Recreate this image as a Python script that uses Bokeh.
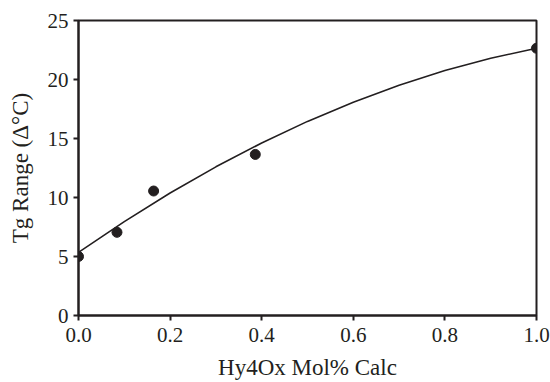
from bokeh.plotting import figure
from bokeh.models import FixedTicker, PrintfTickFormatter, Range1d
from bokeh.embed import file_html
from bokeh.resources import INLINE

# measured data points
mol_frac = [0.0, 0.084, 0.164, 0.386, 1.0]
tg_range = [5.0, 7.05, 10.55, 13.65, 22.65]

# trendline
trend_x = [0.0, 0.1, 0.2, 0.3, 0.4, 0.5, 0.6, 0.7, 0.8, 0.9, 1.0]
trend_y = [5.35, 7.96, 10.38, 12.60, 14.62, 16.45, 18.08, 19.52, 20.76, 21.80, 22.65]

x_ticks = [0.0, 0.2, 0.4, 0.6, 0.8, 1.0]
y_ticks = [0, 5, 10, 15, 20, 25]

FONT = "Liberation Serif"
INK = "#231f20"

p = figure(width=550, height=382, output_backend="svg", toolbar_location=None,
           x_range=Range1d(0, 1), y_range=Range1d(0, 25),
           min_border_left=78, min_border_right=14, min_border_top=20, min_border_bottom=67)
p.frame_width = 458
p.frame_height = 295

p.line(trend_x, trend_y, line_color=INK, line_width=1.6)
p.scatter(mol_frac, tg_range, size=10, fill_color=INK, line_color=INK)

p.xgrid.visible = False
p.ygrid.visible = False
p.outline_line_color = INK
p.outline_line_width = 2
p.outline_line_alpha = 1

p.axis.axis_line_color = INK
p.axis.axis_line_width = 2
p.axis.major_tick_line_color = INK
p.axis.major_tick_line_width = 2
p.axis.major_tick_out = 5
p.axis.major_tick_in = 0
p.axis.minor_tick_line_color = None
p.axis.major_label_text_font = FONT
p.axis.major_label_text_font_size = "21px"
p.axis.major_label_text_font_style = "normal"
p.axis.major_label_text_color = INK
p.axis.axis_label_text_font = FONT
p.axis.axis_label_text_font_size = "23px"
p.axis.axis_label_text_font_style = "normal"
p.axis.axis_label_text_color = INK

p.xaxis.ticker = FixedTicker(ticks=x_ticks)
p.xaxis.formatter = PrintfTickFormatter(format="%.1f")
p.yaxis.ticker = FixedTicker(ticks=y_ticks)
p.xaxis.major_label_standoff = 7
p.yaxis.major_label_standoff = 5
p.xaxis.axis_label = "Hy4Ox Mol% Calc"
p.yaxis.axis_label = "Tg Range (\u0394\u00b0C)"
p.xaxis.axis_label_standoff = 10
p.yaxis.axis_label_standoff = 12

open("out.html", "w").write(file_html(p, INLINE))
